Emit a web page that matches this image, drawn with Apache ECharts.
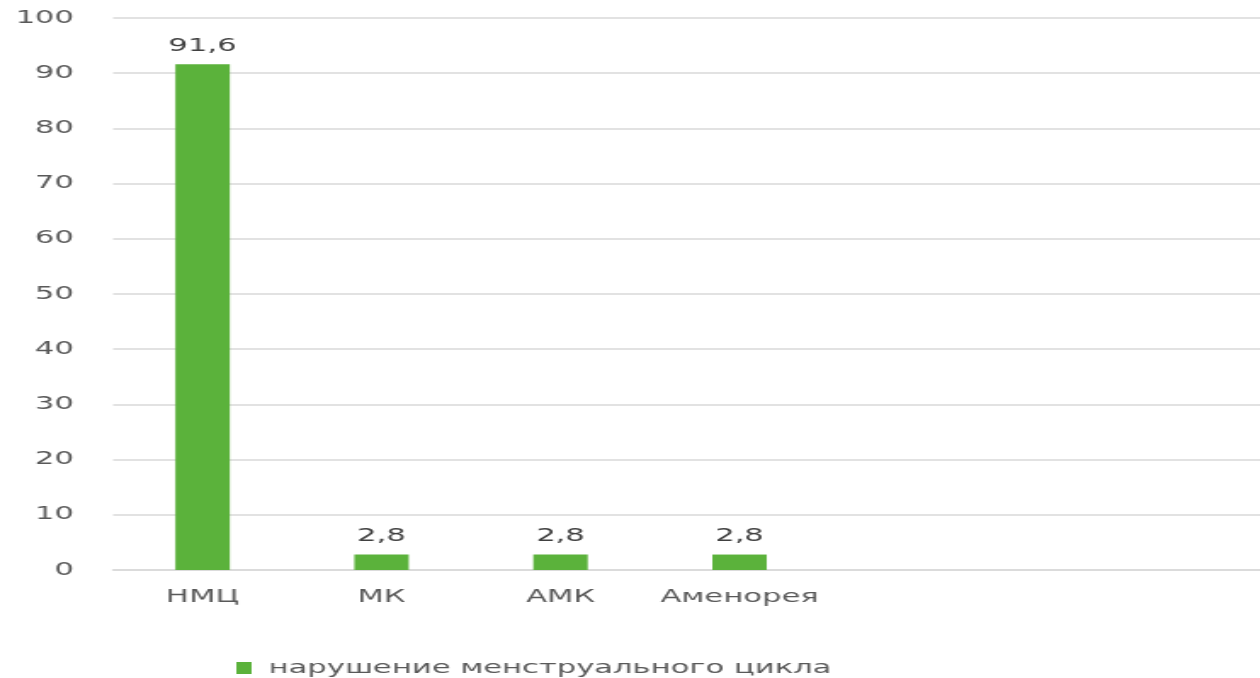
<!DOCTYPE html>
<html>
<head>
<meta charset="utf-8">
<script src="https://cdn.jsdelivr.net/npm/echarts@6/dist/echarts.min.js"></script>
<style>
html, body { margin: 0; padding: 0; width: 1260px; height: 678px; overflow: hidden; background: #ffffff; }
#wrap { width: 1260px; height: 678px; overflow: hidden; position: relative; }
#chart { width: 810px; height: 678px; transform: scaleX(1.7); transform-origin: 0 0; position: absolute; left: 0; top: 0; }
</style>
</head>
<body>
<div id="wrap"><div id="chart"></div></div>
<script>
const categories = ['НМЦ', 'МК', 'АМК', 'Аменорея'];
const seriesName = 'нарушение менструального цикла';
const values = [91.6, 2.8, 2.8, 2.8];
const yTicks = { min: 0, max: 100, interval: 10 };

const chart = echarts.init(document.getElementById('chart'), null, { renderer: 'canvas' });
const font = 'DejaVu Sans';
chart.setOption({
  animation: false,
  backgroundColor: '#ffffff',
  grid: { left: 66.5, right: 6.5, top: 18, bottom: 108, containLabel: false },
  legend: {
    data: [seriesName],
    left: 134,
    top: 654,
    itemWidth: 9,
    itemHeight: 12,
    icon: 'rect',
    textStyle: { fontFamily: font, fontSize: 18, color: '#595959', padding: [0, 0, 0, 5] }
  },
  xAxis: {
    type: 'category',
    data: categories,
    max: 6,
    boundaryGap: true,
    axisLine: { show: true, lineStyle: { color: '#d9d9d9', width: 1.5 } },
    axisTick: { show: false },
    axisLabel: {
      interval: 0,
      fontFamily: font, fontSize: 18, color: '#595959', margin: 18,
      formatter: function (v) { return categories.indexOf(v) >= 0 ? v : ''; }
    },
    splitLine: { show: false }
  },
  yAxis: {
    type: 'value',
    min: yTicks.min, max: yTicks.max, interval: yTicks.interval,
    axisLine: { show: false },
    axisTick: { show: false },
    axisLabel: { fontFamily: font, fontSize: 18, color: '#595959', margin: 23 },
    splitLine: { lineStyle: { color: '#d9d9d9', width: 1.5 } }
  },
  series: [{
    name: seriesName,
    type: 'bar',
    data: values,
    barWidth: 32,
    itemStyle: { color: '#5bb23b' },
    label: {
      show: true, position: 'top', distance: 9,
      fontFamily: font, fontSize: 18, color: '#404040',
      formatter: function (p) { return String(p.value).replace('.', ','); }
    }
  }]
});
</script>
</body>
</html>
